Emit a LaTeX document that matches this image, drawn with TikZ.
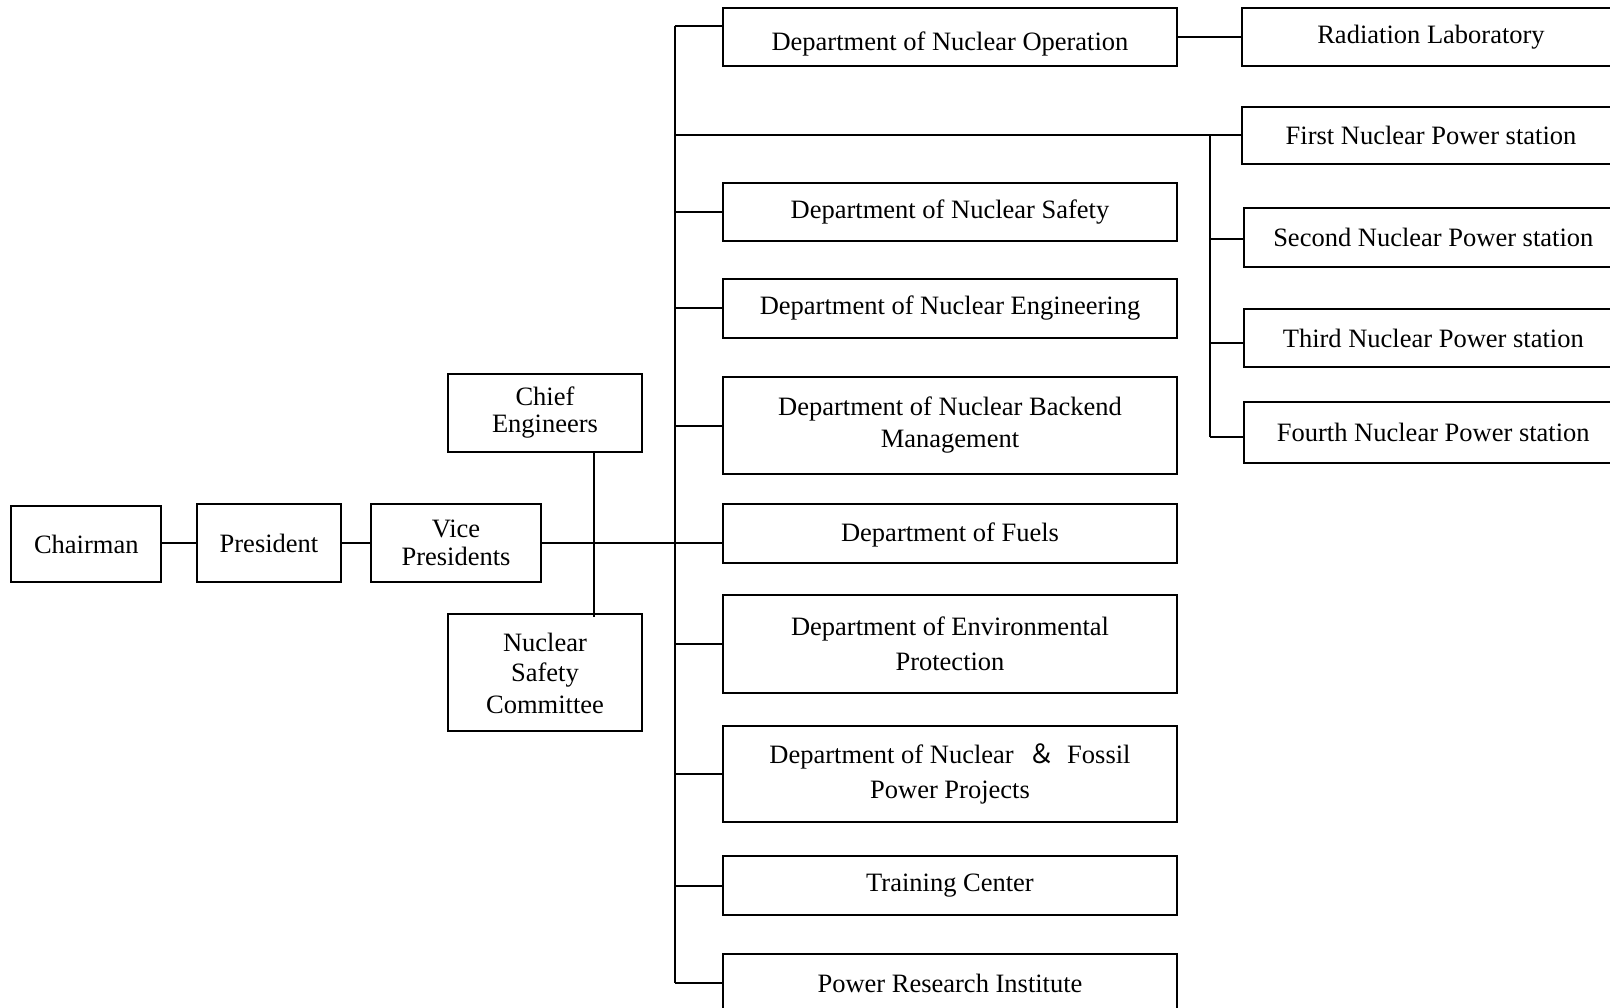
\documentclass[tikz,border=0pt]{standalone}
\usepackage{fontspec}
\setmainfont{Liberation Serif}
\newfontfamily\cjk{Noto Sans CJK TC}
\tikzset{
  box/.style={draw, line width=2pt, inner sep=0pt, outer sep=0pt, align=center,
    font={\fontsize{26.5pt}{31pt}\selectfont}},
  ln/.style={line width=2pt},
}
\begin{document}
\begin{tikzpicture}[x=1pt,y=-1pt]
\useasboundingbox (0,0) rectangle (1610,1008);
\clip (0,0) rectangle (1610,1008);
\fill[white] (0,0) rectangle (1610,1008);

% left chain
\node[box, minimum width=150pt, minimum height=76pt] (chair) at (86.3,544) {Chairman};
\node[box, minimum width=144pt, minimum height=78pt] (pres) at (269,543) {President};
\node[box, minimum width=170pt, minimum height=78pt, font={\fontsize{26.5pt}{27.5pt}\selectfont}] (vp) at (456,543) {Vice\\Presidents};
\node[box, minimum width=194pt, minimum height=78pt, font={\fontsize{26.5pt}{27pt}\selectfont}] (ce) at (545,413) {Chief\\Engineers};
\node[box, minimum width=194pt, minimum height=117pt, font={\fontsize{26.5pt}{32pt}\selectfont}] (nsc) at (545,672.5) {\raisebox{-2pt}[\height][\depth]{Nuclear}\\Safety\\Committee};

% departments
\node[box, minimum width=453.7pt, minimum height=57.5pt] (op) at (950,37) {\raisebox{-7pt}[\height][\depth]{Department of Nuclear Operation}};
\node[box, minimum width=453.7pt, minimum height=58.5pt] (saf) at (950,212) {Department of Nuclear Safety};
\node[box, minimum width=453.7pt, minimum height=58.5pt] (eng) at (950,308.5) {Department of Nuclear Engineering};
\node[box, minimum width=453.7pt, minimum height=97.6pt] (back) at (950,425.6) {\raisebox{1.5pt}[\height][\depth]{Department of Nuclear Backend}\\Management};
\node[box, minimum width=453.7pt, minimum height=58.7pt] (fuel) at (950,533.4) {\raisebox{-1.5pt}[\height][\depth]{Department of Fuels}};
\node[box, minimum width=453.7pt, minimum height=97.5pt, font={\fontsize{26.5pt}{35pt}\selectfont}] (env) at (950,644) {Department of Environmental\\Protection};
\node[box, minimum width=453.7pt, minimum height=96.5pt, font={\fontsize{26.5pt}{35pt}\selectfont}] (foss) at (950,774) {Department of Nuclear\hspace{15pt}{\cjk ＆}\hspace{12pt}Fossil\\Power Projects};
\node[box, minimum width=453.7pt, minimum height=59pt] (train) at (950,885.5) {Training Center};
\node[box, minimum width=453.7pt, minimum height=58pt] (pri) at (950,983) {Power Research Institute};

% right column
\node[box, minimum width=378pt, minimum height=57.5pt] (rad) at (1431,37) {Radiation Laboratory};
\node[box, minimum width=378pt, minimum height=57.5pt] (first) at (1431,135.5) {First Nuclear Power station};
\node[box, minimum width=378pt, minimum height=58.6pt] (second) at (1433.3,237.7) {Second Nuclear Power station};
\node[box, minimum width=378pt, minimum height=58pt] (third) at (1433.3,338) {Third Nuclear Power station};
\node[box, minimum width=378pt, minimum height=60pt] (fourth) at (1433.3,432.5) {Fourth Nuclear Power station};

% connection points
\coordinate (spT) at (674.6,26.5);
\coordinate (spB) at (674.6,983);
\coordinate (npsJ) at (674.6,135.5);
\coordinate (ssT) at (1210,135.5);
\coordinate (ssB) at (1210,437.4);
\coordinate (cen) at (593.5,452);

% connectors left
\draw[ln] (chair.east |- pres.west) -- (pres.west);
\draw[ln] (pres.east) -- (vp.west);
\draw[ln] (vp.east) -- (vp.east -| fuel.west);
\draw[ln] (cen) -- ([yshift=-3pt]nsc.north -| cen);

% spine
\draw[ln] (spT) -- (spB);
\draw[ln] (spT) -- (spT -| op.west);
\draw[ln] (saf.west -| spT) -- (saf.west);
\draw[ln] (eng.west -| spT) -- (eng.west);
\draw[ln] (back.west -| spT) -- (back.west);
\draw[ln] (env.west -| spT) -- (env.west);
\draw[ln] (foss.west -| spT) -- (foss.west);
\draw[ln] (train.west -| spT) -- (train.west);
\draw[ln] (spB) -- (spB -| pri.west);

% right connectors
\draw[ln] (op.east) -- (op.east -| rad.west);
\draw[ln] (npsJ) -- (first.west);
\draw[ln] (ssT) -- (ssB);
\draw[ln] (1210,239) -- (second.west |- 1210,239);
\draw[ln] (1210,342.7) -- (third.west |- 1210,342.7);
\draw[ln] (ssB) -- (ssB -| fourth.west);
\end{tikzpicture}
\end{document}
